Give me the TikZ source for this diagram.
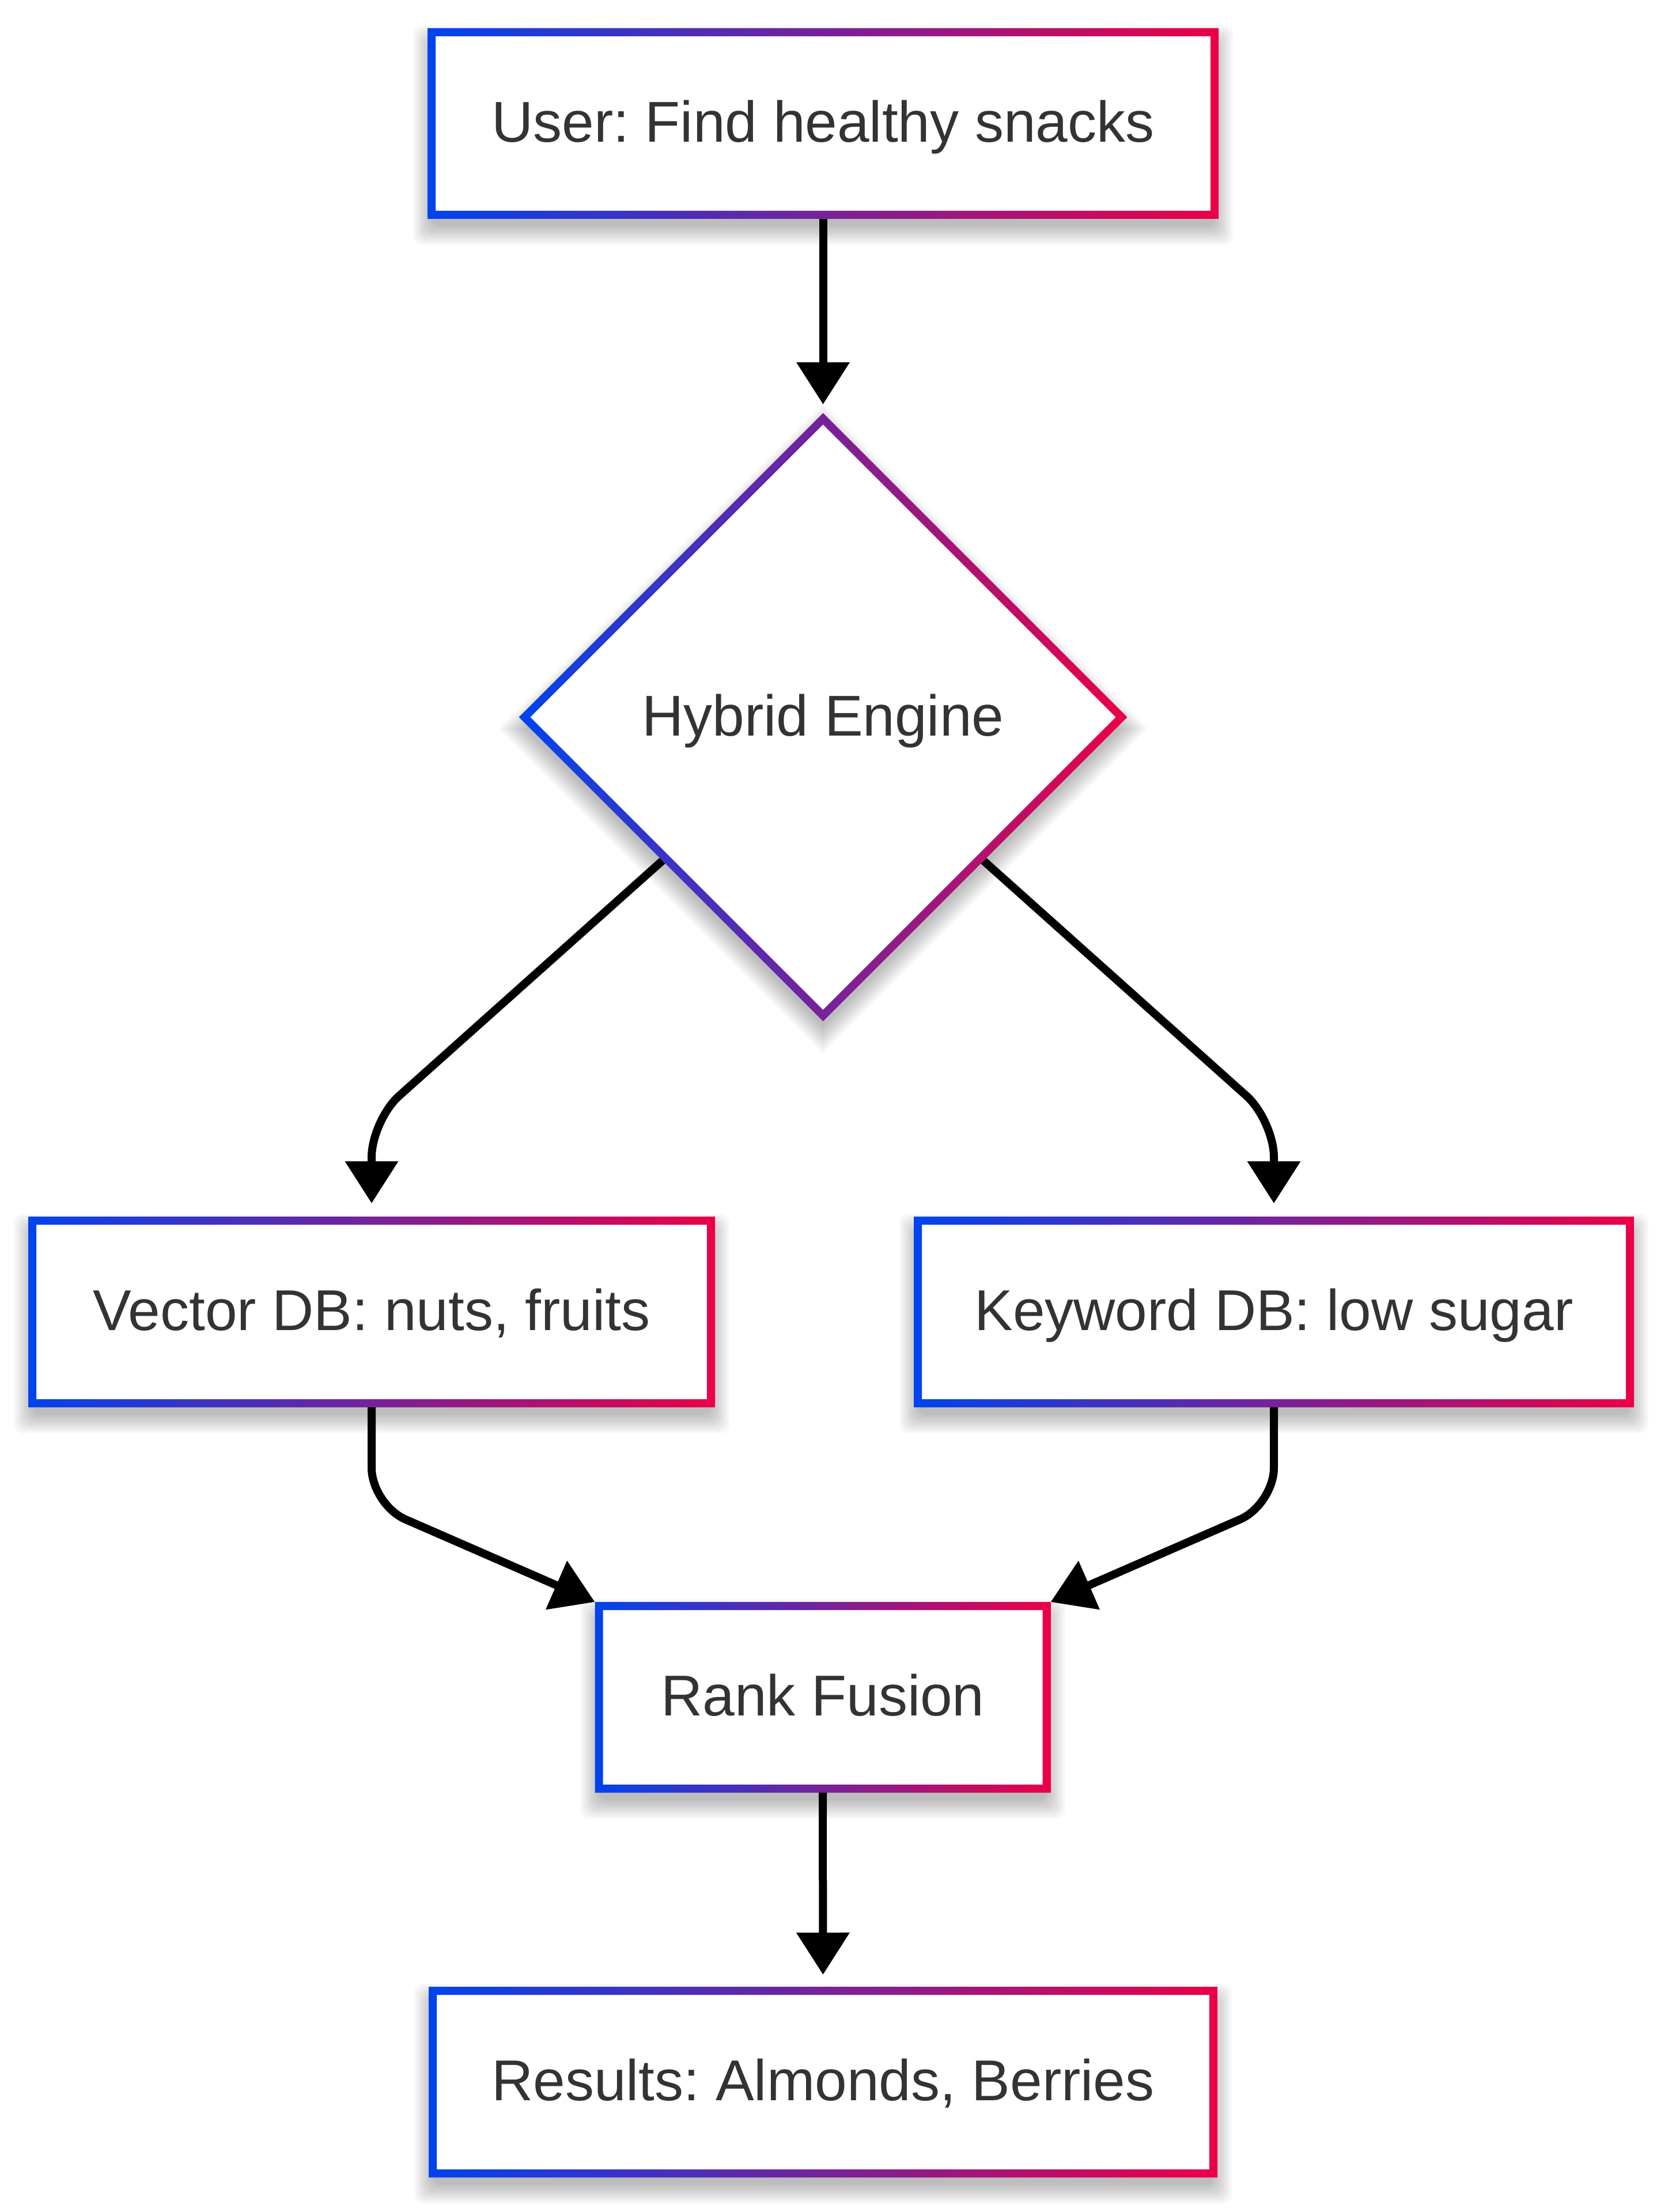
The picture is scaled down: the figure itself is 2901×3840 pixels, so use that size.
\documentclass[tikz,border=0pt]{standalone}
\usepackage{fontspec}
\setmainfont{Liberation Sans}
\frenchspacing
\usetikzlibrary{shapes.geometric,arrows.meta}
\definecolor{gA}{RGB}{0,68,238}
\definecolor{gB}{RGB}{236,0,70}
\definecolor{txt}{HTML}{333333}
\pgfdeclarelayer{bg}
\pgfdeclarelayer{shad}
\pgfdeclarelayer{edges}
\pgfsetlayers{bg,shad,edges,main}
\tikzset{
  box/.style={rectangle, inner sep=0pt, outer sep=0pt, fill=white, text=txt,
    font=\fontsize{25pt}{30pt}\selectfont, text height=20.5pt, text depth=4.5pt,
    minimum height=82.75pt},
  decision/.style={diamond, aspect=1, inner sep=0pt, outer sep=0pt, fill=white, text=txt,
    font=\fontsize{25pt}{30pt}\selectfont, text height=20.5pt, text depth=4.5pt,
    minimum width=264pt, minimum height=264pt},
  conn/.style={line width=3.5pt, draw=black, -{Triangle[length=18.25pt,width=22.25pt]}, rounded corners=16pt},
  ring/.style={left color=gA, right color=gB, even odd rule},
  softshadow/.style={fill=black, opacity=0.028}
}
\newcommand\ringbox[1]{\shade[ring] (#1.south west) rectangle (#1.north east)
  ([xshift=3.5pt,yshift=3.5pt]#1.south west) rectangle ([xshift=-3.5pt,yshift=-3.5pt]#1.north east);}
\newcommand\shadowrect[1]{%
  \begin{pgfonlayer}{shad}
  \foreach \k in {1,...,10}{%
    \pgfmathsetmacro\shE{(\k-3)*0.9}%
    \pgfmathsetmacro\shN{0-(\shE)}%
    \pgfmathsetmacro\shL{0-(\shE)-5}%
    \pgfmathsetmacro\shH{(\shE)-5}%
    \fill[softshadow, rounded corners=4pt] ([xshift=\shN pt, yshift=\shL pt]#1.south west) rectangle ([xshift=\shE pt, yshift=\shH pt]#1.north east);
  }
  \end{pgfonlayer}}
\newcommand\shadowdia[1]{%
  \begin{pgfonlayer}{shad}
  \foreach \k in {1,...,10}{%
    \pgfmathsetmacro\shE{(\k-3)*0.9*1.414}%
    \pgfmathsetmacro\shN{0-(\shE)}%
    \pgfmathsetmacro\shL{0-(\shE)-5}%
    \pgfmathsetmacro\shH{(\shE)-5}%
    \fill[softshadow] ([yshift=\shH pt]#1.north) -- ([xshift=\shE pt, yshift=-5pt]#1.east) -- ([yshift=\shL pt]#1.south) -- ([xshift=\shN pt, yshift=-5pt]#1.west) -- cycle;
  }
  \end{pgfonlayer}}
\begin{document}
\begin{tikzpicture}[x=0.25pt,y=-0.25pt]
\useasboundingbox (0,0) rectangle (2901,3840);
\begin{pgfonlayer}{bg}
\fill[white] (0,0) rectangle (2901,3840);
\end{pgfonlayer}

\node[box, minimum width=343.25pt] (top) at (1428.5,214.5) {User: Find healthy snacks};
\node[decision] (dia) at (1428.5,1245) {Hybrid Engine};
\node[box, minimum width=298pt] (vec) at (645,2277.5) {Vector DB: nuts, fruits};
\node[box, minimum width=312.5pt] (kw) at (2211,2277.5) {Keyword DB: low sugar};
\node[box, minimum width=197.75pt] (rank) at (1428,2946.5) {Rank Fusion};
\node[box, minimum width=342.25pt] (res) at (1428.5,3614.5) {Results: Almonds, Berries};

\shadowrect{top}
\shadowrect{vec}
\shadowrect{kw}
\shadowrect{rank}
\shadowrect{res}
\shadowdia{dia}

\ringbox{top}
\ringbox{vec}
\ringbox{kw}
\ringbox{rank}
\ringbox{res}
\shade[ring] (dia.north) -- (dia.east) -- (dia.south) -- (dia.west) -- cycle
  ([yshift=-4.95pt]dia.north) -- ([xshift=-4.95pt]dia.east) -- ([yshift=4.95pt]dia.south) -- ([xshift=4.95pt]dia.west) -- cycle;

\coordinate (cL) at (645,1945);
\coordinate (cR) at (2211,1945);
\coordinate (mL) at (645,2612);
\coordinate (mR) at (2211,2612);

\begin{pgfonlayer}{edges}
\draw[conn, shorten >=3.75pt] (top.south) -- (dia.north);
\draw[conn, shorten >=5.75pt] (dia.center) -- (cL) -- (vec.north);
\draw[conn, shorten >=5.75pt] (dia.center) -- (cR) -- (kw.north);
\draw[conn] (vec.south) -- (mL) -- (rank.north west);
\draw[conn] (kw.south) -- (mR) -- (rank.north east);
\draw[conn, shorten >=5.25pt] (rank.south) -- (res.north);
\end{pgfonlayer}
\end{tikzpicture}
\end{document}
